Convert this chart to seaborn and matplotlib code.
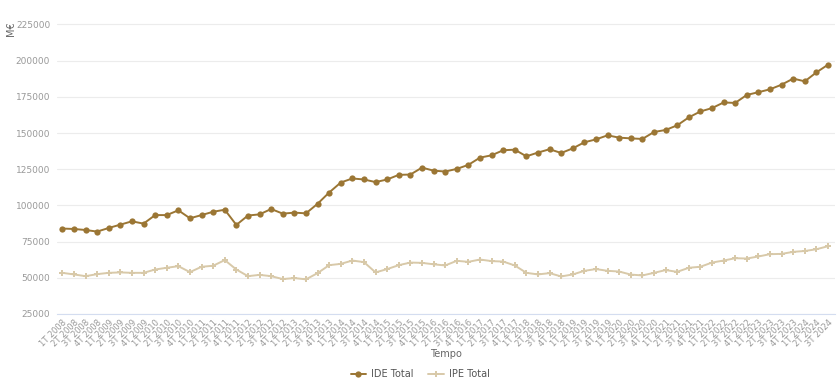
import numpy as np
import pandas as pd
import matplotlib
import matplotlib.pyplot as plt
import seaborn as sns

matplotlib.use("Agg")

# ── Data ───────────────────────────────────────────────────────────────────
quarters = [f"{q}T {y}" for y in range(2008, 2025) for q in range(1, 5)][:67]

ide_total = [
    84000, 83700, 83000, 81900, 84400, 86700, 89000, 87400,
    93300, 93300, 96600, 91100, 93300, 95600, 97000, 86500,
    93000, 93800, 97500, 94300, 95000, 94500, 101100, 108900,
    115800, 118600, 117900, 116100, 117900, 121100, 121300, 126100,
    124000, 123400, 125200, 128000, 133000, 134600, 138100, 138500,
    133900, 136500, 138800, 136200, 139400, 143600, 145600, 148400,
    146800, 146300, 145900, 150700, 152100, 155300, 160800, 164900,
    167200, 171100, 170800, 176300, 178200, 180200, 183400, 187600,
    185700, 191900, 197200,
]

ipe_total = [
    53400, 52300, 51100, 52500, 53400, 53700, 53400, 53400,
    55700, 56900, 58000, 53900, 57600, 58300, 62200, 55700,
    51100, 52000, 51100, 49100, 49800, 48900, 53200, 58700,
    59600, 61900, 60800, 53700, 56000, 58700, 60500, 60300,
    59300, 58500, 61700, 61000, 62600, 61500, 61200, 58500,
    53400, 52300, 53200, 50900, 52300, 54800, 56000, 54800,
    54300, 52200, 51600, 53400, 55300, 54100, 56900, 57600,
    60500, 61900, 63500, 63300, 64700, 66300, 66500, 67900,
    68500, 69700, 71800,
]

series_names = ["IDE Total", "IPE Total"]
series_colors = ["#9b7634", "#d8c9a9"]
y_ticks = [25000, 50000, 75000, 100000, 125000, 150000, 175000, 200000, 225000]

df = pd.DataFrame({
    "Tempo": quarters * 2,
    "idx": list(range(len(quarters))) * 2,
    "valor": ide_total + ipe_total,
    "serie": [series_names[0]] * len(quarters) + [series_names[1]] * len(quarters),
})

sns.set_style("white")
plt.rcParams["font.family"] = ["DejaVu Sans"]

fig = plt.figure(figsize=(8.4, 3.9), dpi=100)
ax = fig.add_axes([0.068, 0.195, 0.926, 0.746])

sns.lineplot(
    data=df, x="idx", y="valor", hue="serie", style="serie",
    palette=dict(zip(series_names, series_colors)),
    markers={"IDE Total": "o", "IPE Total": "P"},
    dashes=False, linewidth=1.4, markersize=4.5, markeredgewidth=0,
    ax=ax, legend=True,
)

ax.set_xlim(-0.45, len(quarters) - 1 + 0.6)
ax.set_ylim(25000, 226000)
ax.set_yticks(y_ticks)
ax.set_yticklabels([str(v) for v in y_ticks])
ax.set_xticks(range(len(quarters)))
ax.set_xticklabels(quarters, rotation=45, ha="right", rotation_mode="anchor")
ax.tick_params(axis="x", labelsize=6, colors="#999999", length=0, pad=3)
ax.tick_params(axis="y", labelsize=6.5, colors="#999999", length=0, pad=5)

ax.grid(axis="y", color="#ececec", linewidth=0.8)
ax.grid(axis="x", visible=False)
for side in ["top", "right", "left"]:
    ax.spines[side].set_visible(False)
ax.spines["bottom"].set_color("#d4ddf0")
ax.spines["bottom"].set_linewidth(0.8)
ax.set_axisbelow(True)

ax.set_xlabel("Tempo", fontsize=7, color="#666666", labelpad=0)
ax.set_ylabel("M€", fontsize=7, color="#666666")
ax.yaxis.set_label_coords(-0.053, 0.98)

handles, labels = ax.get_legend_handles_labels()
ax.legend(
    handles=handles, labels=labels, loc="lower center",
    bbox_to_anchor=(0.5, 0.006), bbox_transform=fig.transFigure,
    ncol=2, frameon=False, fontsize=7, labelcolor="#555555",
    handlelength=1.6, columnspacing=1.5, handletextpad=0.5,
)

fig.savefig("out.png", dpi=100)
